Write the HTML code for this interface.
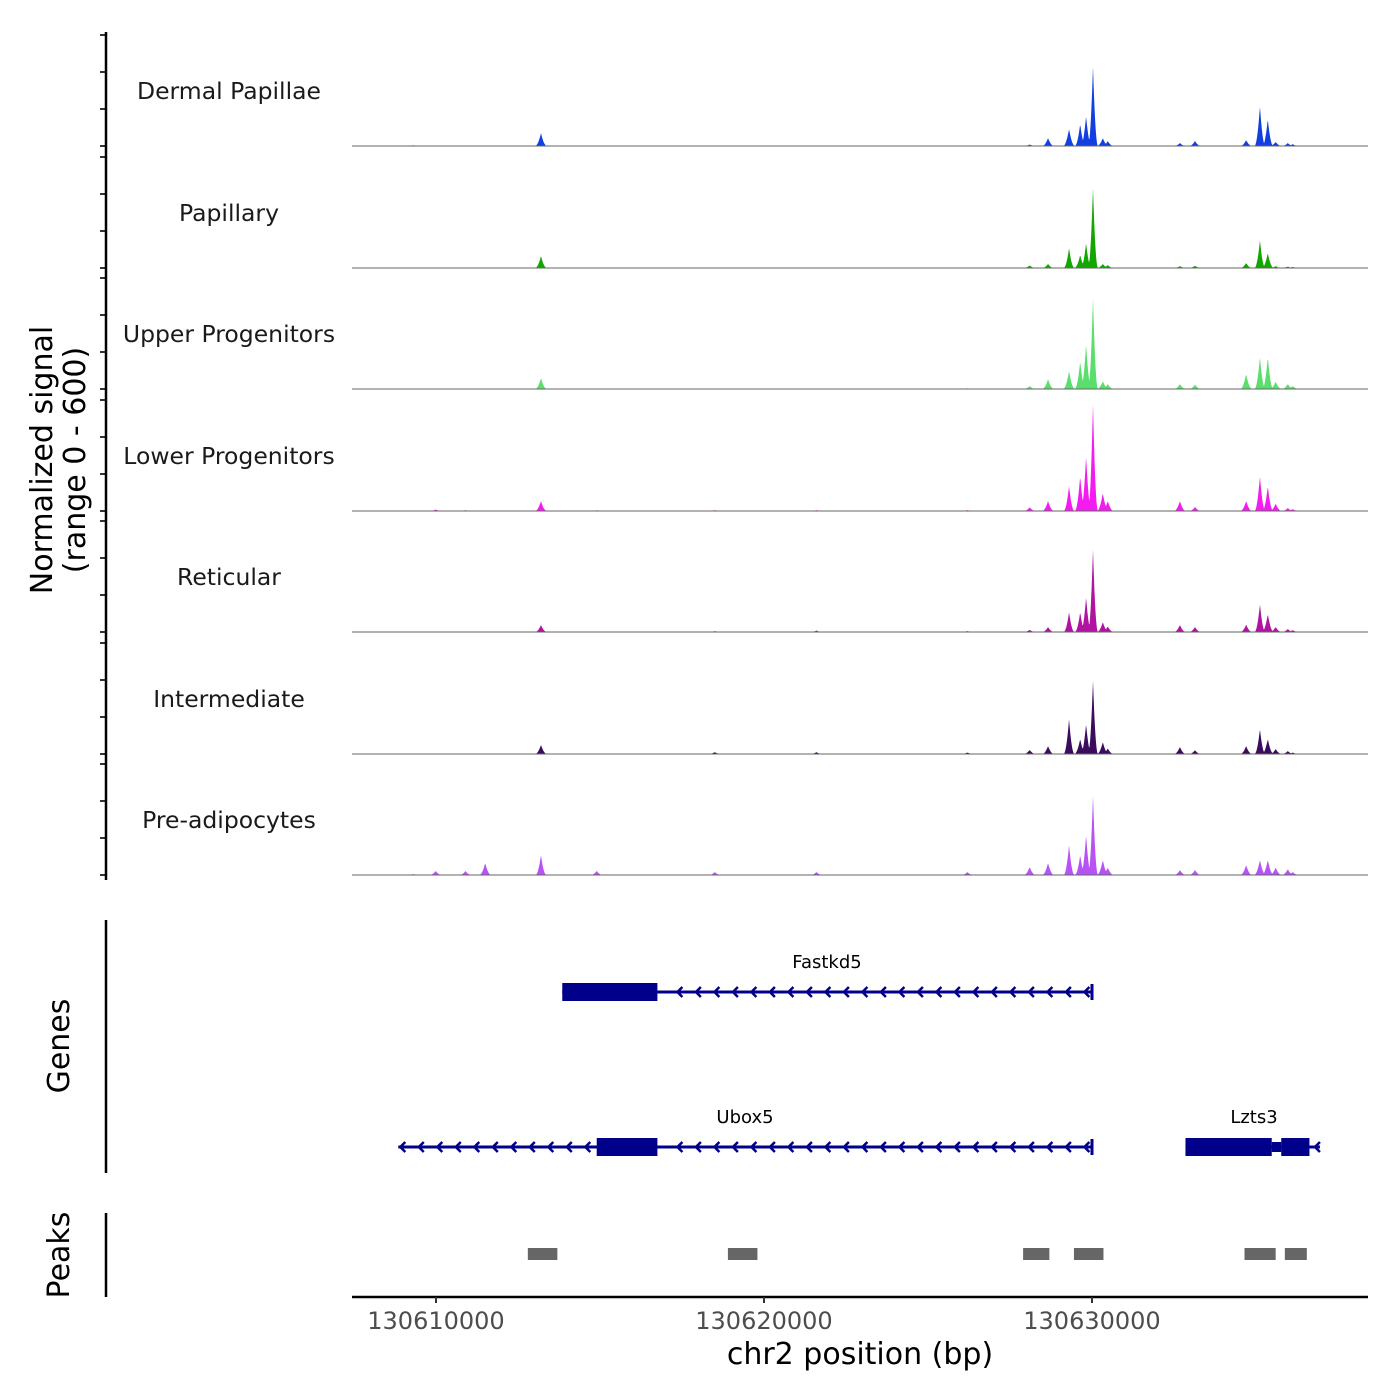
<!DOCTYPE html>
<html><head><meta charset="utf-8"><style>
body{margin:0;background:#fff}
svg{display:block;font-family:"DejaVu Sans","Liberation Sans",sans-serif}
</style></head><body>
<svg id="chart" width="1400" height="1400" viewBox="0 0 1400 1400" xmlns="http://www.w3.org/2000/svg">
<g id="tracks"></g>
<g id="axes"></g>
<g id="genes"></g>
<g id="peaks"></g>
</svg>
<script>
// ---- data ----
const trackNames = ["Dermal Papillae","Papillary","Upper Progenitors","Lower Progenitors","Reticular","Intermediate","Pre-adipocytes"];
const trackColors = ["#1240e0","#13a500","#5ade6c","#f21cf0","#b0139f","#3b0b5e","#b753f5"];
// peak positions (bp)
const peakPos = [130609310,130609990,130610900,130611500,130613200,130614900,130618500,130621600,130626200,130628100,130628660,130629300,130629640,130629820,130630030,130630330,130630480,130632680,130633140,130634700,130635120,130635360,130635600,130635970,130636120];
// signal heights (0-600) per track at each peak position
const sigDP  = [4,0,0,0,70,3,2,3,3,8,43,92,119,162,432,43,27,16,27,32,216,146,22,16,10];
const sigPap = [0,0,0,0,65,0,2,2,2,14,22,108,70,135,437,22,16,10,12,27,151,81,10,8,6];
const sigUP  = [0,0,0,0,59,0,3,2,4,16,54,97,151,243,497,43,27,27,24,81,173,173,40,27,16];
const sigLP  = [3,8,5,3,54,4,5,5,5,20,54,135,189,297,580,97,54,54,22,54,189,135,40,16,10];
const sigRet = [0,0,0,0,38,0,5,8,5,12,27,108,108,189,450,54,30,38,27,40,151,97,27,16,10];
const sigInt = [0,0,0,0,49,0,10,10,8,22,43,189,81,162,400,65,30,38,20,43,135,81,27,16,8];
const sigPre = [5,22,22,65,108,22,16,16,16,43,65,162,108,216,432,81,40,27,27,54,81,81,40,32,16];
const allSignals = [sigDP,sigPap,sigUP,sigLP,sigRet,sigInt,sigPre];
const xTicks = [130610000,130620000,130630000];
const peakRegions = [[130612800,130613700],[130618900,130619800],[130627900,130628700],[130629450,130630350],[130634650,130635600],[130635880,130636550]];
const genes = [
 {name:"Fastkd5",start:130613850,end:130630000,cds:[[130613850,130616750]],row:0},
 {name:"Ubox5",start:130608850,end:130630000,cds:[[130614900,130616750]],row:1},
 {name:"Lzts3",start:130632850,end:130636950,cds:[[130632850,130635480],[130635770,130636630]],row:1}
];
// ---- scales ----
const X0=352,X1=1368,D0=130607439,D1=130638415;
const xs=v=>X0+(v-D0)/(D1-D0)*(X1-X0);
const baselines=[146,268,389,511,632,754,875];
const TH=111;
const ys=(i,v)=>baselines[i]-v/600*TH;
const NS="http://www.w3.org/2000/svg";
function mk(tag,attrs,parent){const e=document.createElementNS(NS,tag);for(const k in attrs)e.setAttribute(k,attrs[k]);parent.appendChild(e);return e;}
const tracks=document.getElementById('tracks');
const axes=document.getElementById('axes');
allSignals.forEach((sig,i)=>{
  let d=`M${X0},${baselines[i]}`;
  for(let px=X0;px<=X1;px+=0.5){
    let v=0;
    peakPos.forEach((p,j)=>{const dd=Math.abs(px-xs(p));const hw=sig[j]>300?5:(sig[j]>100?5.5:6);if(dd<hw){const t=1-dd/hw;v=Math.max(v,sig[j]*t*t);}});
    d+=`L${px},${ys(i,v).toFixed(1)}`;
  }
  d+=`L${X1},${baselines[i]}Z`;
  const a=mk('path',{d:d,fill:trackColors[i]},tracks);
  
  
  const b=mk('line',{x1:X0,x2:X1,y1:baselines[i],y2:baselines[i],stroke:'#666','stroke-width':1},tracks);
  
  
  const t=mk('text',{x:229,y:baselines[i]-47,'text-anchor':'middle','font-size':23.5,fill:'#1a1a1a'},tracks);
  t.textContent=trackNames[i];
  
  
  [0,200,400,600].forEach(v=>{
    const tk=mk('line',{x1:100,x2:106,y1:ys(i,v),y2:ys(i,v),stroke:'#333','stroke-width':2},axes);
    
    
  });
});
mk('line',{x1:106,x2:106,y1:32,y2:880,stroke:'#000','stroke-width':2.5,},axes);
mk('line',{x1:106,x2:106,y1:920,y2:1173,stroke:'#000','stroke-width':2.5,},axes);
mk('line',{x1:106,x2:106,y1:1213,y2:1297,stroke:'#000','stroke-width':2.5,},axes);
mk('line',{x1:X0,x2:X1,y1:1297,y2:1297,stroke:'#000','stroke-width':2.5,},axes);
xTicks.forEach(v=>{
  const tk=mk('line',{x1:xs(v),x2:xs(v),y1:1297,y2:1303,stroke:'#333','stroke-width':2},axes);
  
  
  const t=mk('text',{x:xs(v),y:1329,'text-anchor':'middle','font-size':24,fill:'#4d4d4d'},axes);
  t.textContent=v;
  
  
});
const xt=mk('text',{x:860,y:1364,'text-anchor':'middle','font-size':30,fill:'#000'},axes);
xt.textContent="chr2 position (bp)";


const yt=mk('text',{transform:'translate(52,460) rotate(-90)','text-anchor':'middle','font-size':30,fill:'#000'},axes);


mk('tspan',{x:0,dy:0},yt).textContent="Normalized signal";
mk('tspan',{x:0,dy:33},yt).textContent="(range 0 - 600)";
const gt=mk('text',{transform:'translate(69,1046) rotate(-90)','text-anchor':'middle','font-size':30},axes);
gt.textContent="Genes";


const pt=mk('text',{transform:'translate(69,1255) rotate(-90)','text-anchor':'middle','font-size':30},axes);
pt.textContent="Peaks";


const gg=document.getElementById('genes');
const rowY=[992,1147];
genes.forEach(g=>{
  const y=rowY[g.row],x1=xs(g.start),x2=xs(g.end);
  const grp=mk('g',{},gg);
  
  
  mk('line',{x1:x1,x2:x2,y1:y,y2:y,stroke:'#00008b','stroke-width':3},grp);
  if(g.name!=="Lzts3"){
    mk('line',{x1:x2,x2:x2,y1:y-8,y2:y+8,stroke:'#00008b','stroke-width':3},grp);
    const c0=g.cds[0][1];
    for(let px=xs(c0)+20;px<x2-4;px+=18.5){mk('polyline',{points:`${px+5},${y-5} ${px},${y} ${px+5},${y+5}`,fill:'none',stroke:'#00008b','stroke-width':2.5},grp);}
    if(g.name==="Ubox5"){for(let px=x1+2;px<xs(g.cds[0][0])-4;px+=18.5){mk('polyline',{points:`${px+5},${y-5} ${px},${y} ${px+5},${y+5}`,fill:'none',stroke:'#00008b','stroke-width':2.5},grp);}}
  } else {
    mk('polyline',{points:`${x2},${y-5} ${x2-5},${y} ${x2},${y+5}`,fill:'none',stroke:'#00008b','stroke-width':2.5},grp);
    mk('rect',{x:xs(g.cds[0][1]),y:y-5,width:xs(g.cds[1][0])-xs(g.cds[0][1]),height:10,fill:'#00008b'},grp);
  }
  g.cds.forEach(c=>mk('rect',{x:xs(c[0]),y:y-9,width:xs(c[1])-xs(c[0]),height:18,fill:'#00008b'},grp));
  const lx = g.name==="Fastkd5"?827:(g.name==="Ubox5"?745:1254);
  const t=mk('text',{x:lx,y:y-24,'text-anchor':'middle','font-size':18,fill:'#000'},grp);
  t.textContent=g.name;
});
const pg=document.getElementById('peaks');
peakRegions.forEach(r=>{
  const e=mk('rect',{x:xs(r[0]),y:1248,width:xs(r[1])-xs(r[0]),height:12,fill:'#666'},pg);
  
  
});
</script>
</body></html>
